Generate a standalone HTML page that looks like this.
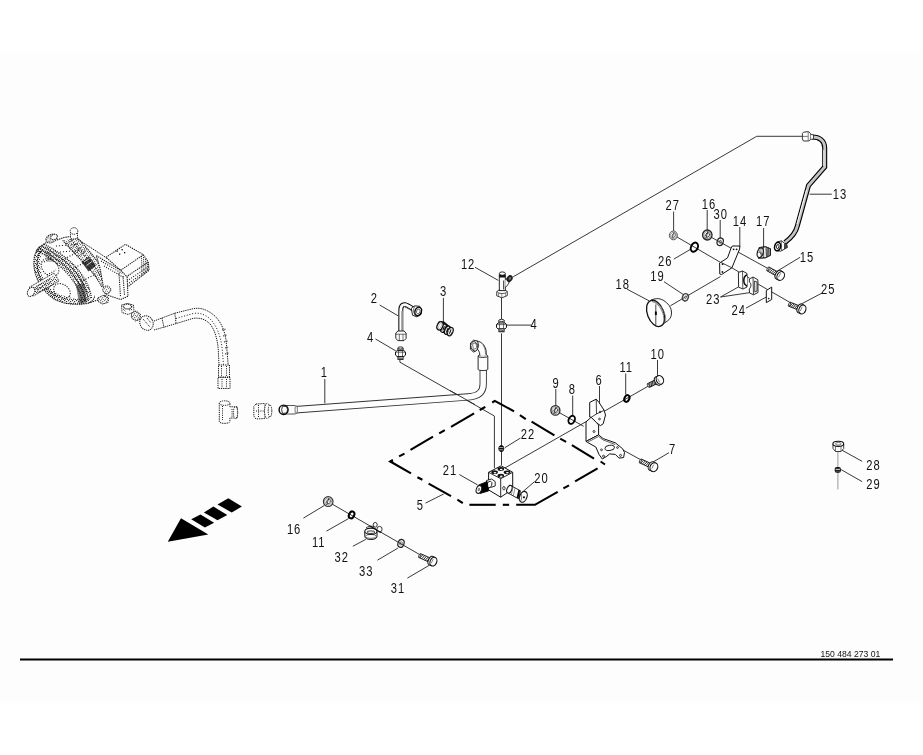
<!DOCTYPE html>
<html><head><meta charset="utf-8"><style>
html,body{margin:0;padding:0;background:#fff;width:923px;height:755px;overflow:hidden}
svg{position:absolute;left:0;top:0;display:block;will-change:transform}
svg text{font-family:"Liberation Sans",sans-serif;font-size:14px;fill:#111;letter-spacing:1.2px}
</style></head><body>
<svg width="923" height="755" viewBox="0 0 923 755">
<rect x="0" y="51" width="922" height="652" fill="#fdfdfd"/>
<g fill="none" stroke="#222" stroke-width="0.9">
<line x1="809.6" y1="194.2" x2="831.8" y2="194.2"/>
<line x1="763.6" y1="228" x2="763.6" y2="248"/>
<line x1="673.6" y1="211.5" x2="673.6" y2="231"/>
<line x1="707.2" y1="210" x2="707.2" y2="230"/>
<line x1="720.2" y1="220" x2="720.2" y2="238.5"/>
<line x1="739.8" y1="227" x2="739.8" y2="247"/>
<line x1="673.8" y1="259.1" x2="691" y2="249"/>
<line x1="664" y1="281.7" x2="683.5" y2="294.7"/>
<line x1="626.9" y1="289.1" x2="649" y2="300.8"/>
<line x1="720.5" y1="297" x2="738.2" y2="287.1"/>
<line x1="720.5" y1="297" x2="749.4" y2="292.7"/>
<line x1="777.6" y1="270.9" x2="800.1" y2="257.3"/>
<line x1="800" y1="304.7" x2="822.7" y2="292.7"/>
<line x1="745.9" y1="308.2" x2="766.3" y2="297"/>
<line x1="475" y1="267.3" x2="498.3" y2="280.4"/>
<line x1="507" y1="325.1" x2="531" y2="325.1"/>
<line x1="379.7" y1="305" x2="398.1" y2="315.8"/>
<line x1="443.4" y1="297.9" x2="443.4" y2="324.1"/>
<line x1="375.5" y1="339" x2="395.8" y2="350.9"/>
<line x1="324.8" y1="379" x2="324.8" y2="403.4"/>
<line x1="555.8" y1="389" x2="555.8" y2="405.5"/>
<line x1="572.7" y1="395.5" x2="572.7" y2="415.4"/>
<line x1="599.5" y1="386" x2="599.5" y2="404.5"/>
<line x1="625.7" y1="373.5" x2="625.7" y2="394.5"/>
<line x1="657.5" y1="360" x2="657.5" y2="376.7"/>
<line x1="669" y1="452.7" x2="653.1" y2="462"/>
<line x1="520.4" y1="438.1" x2="504.8" y2="447.7"/>
<line x1="459.3" y1="474.5" x2="477.5" y2="484.9"/>
<line x1="534.7" y1="481.5" x2="521.7" y2="492.7"/>
<line x1="425.5" y1="503.1" x2="443.7" y2="494"/>
<line x1="303.4" y1="518.1" x2="324.2" y2="505.6"/>
<line x1="326.5" y1="531.1" x2="348.5" y2="518.6"/>
<line x1="352.8" y1="546.3" x2="365.8" y2="539.4"/>
<line x1="377.4" y1="560.2" x2="397.9" y2="548.1"/>
<line x1="407.4" y1="578.1" x2="429.1" y2="565.4"/>
<line x1="842" y1="450.2" x2="862.2" y2="461.4"/>
<line x1="841.1" y1="469.6" x2="862.2" y2="481.7"/>
</g>
<g fill="none" stroke="#222" stroke-width="0.9">
<path d="M756.7,136.3 L803,136.3"/>
<path d="M756.7,136.3 L513.2,276.8"/>
<path d="M501.5,297.7 L501.5,319.1"/>
<path d="M501.5,333.4 L501.5,465"/>
<path d="M399.9,359.9 L399.9,362.2 L494.4,416 L494.4,468"/>
<path d="M504,468.5 L649.2,385.6"/>
<path d="M555.4,410.4 L583.6,426.3"/>
<path d="M623.3,450.2 L641.2,460"/>
<path d="M673.6,235 L720.2,262.2"/>
<path d="M707.2,235 L768.5,268.8"/>
<path d="M670.5,305.7 L720.5,276.5"/>
<path d="M757.2,283.6 L790.3,302.6"/>
<path d="M731,267.3 L749.5,278.2"/>
<path d="M328.2,501.8 L419.5,554.5"/>
</g>
<!-- bottom rule -->
<line x1="20" y1="659.5" x2="893" y2="659.5" stroke="#000" stroke-width="2.2"/>
<text transform="translate(820.5,657)" style="font-size:8.6px;letter-spacing:0">150 484 273 01</text>
<!-- arrow -->
<g fill="#000">
<polygon points="167.8,541.7 181,518.3 208.3,534.4"/>
<polygon points="191.2,519.3 200.5,514.4 214.1,522.7 204.9,527.5"/>
<polygon points="203.9,512.4 213.4,506.6 227.3,514.9 217.5,520.2"/>
<polygon points="217.5,504.6 228.3,498.3 241.9,506.6 231.7,512.4"/>
</g>
<!-- dashed frame 5 -->
<g fill="none" stroke="#000" stroke-width="2.1" stroke-linejoin="miter">
<polyline points="390.3,461.5 392.9,460.3"/>
<polyline points="399.1,456.4 404.5,453.6"/>
<polyline points="410.5,449.9 433,436.7"/>
<polyline points="439.2,433.4 444.8,430.1"/>
<polyline points="451,426.8 474.1,413.4"/>
<polyline points="479.7,410 485.3,406.8"/>
<polyline points="492.2,402.5 494.8,400.9 514.1,411.3"/>
<polyline points="519.9,415.2 525.8,419.1"/>
<polyline points="531.6,421.7 554.4,435.3"/>
<polyline points="560.2,438.6 566.1,441.8"/>
<polyline points="571.9,445.1 594,458.7"/>
<polyline points="600.6,461.5 605,464.5"/>
<polyline points="597.6,468.4 575.1,481.4"/>
<polyline points="569,485.3 563.4,488.4"/>
<polyline points="557.7,491.8 534.9,504.8 516.2,504.8"/>
<polyline points="509.1,504.8 502.8,504.8"/>
<polyline points="495.7,504.8 469.4,504.8"/>
<polyline points="462.8,503.2 457.4,499.7"/>
<polyline points="451,496.1 428.6,483.7"/>
<polyline points="422.4,479.7 417.4,477.2"/>
<polyline points="411,473.3 390.3,461.5 392.9,460.3"/>
</g>
<!-- pipe 1 -->
<path d="M292,410 L468,396.9 C479,396.2 483.2,392 483.2,384 L483.2,368" fill="none" stroke="#333" stroke-width="7.3"/>
<path d="M292,410 L468,396.9 C479,396.2 483.2,392 483.2,384 L483.2,368" fill="none" stroke="#fdfdfd" stroke-width="5.5"/>
<path d="M284,405.6 L296.5,405.6 L296.5,413.9 L284,413.9 Z" fill="#fdfdfd" stroke="none"/>
<path d="M284,405.5 L295.5,405.5 M284,414 L295.5,414" stroke="#444" stroke-width="0.9"/>
<ellipse cx="296.2" cy="409.8" rx="1.2" ry="4.2" fill="none" stroke="#555" stroke-width="0.8"/>
<ellipse cx="283.6" cy="409.8" rx="4.5" ry="4.7" fill="#fdfdfd" stroke="#000" stroke-width="1.4"/>
<path d="M282.5,406.2 L286.6,406.6 L287.6,409.8 L286.6,413 L282.5,413.4 L281.6,409.8 Z" fill="none" stroke="#222" stroke-width="0.9"/>
<!-- pipe 1 sleeve & elbow -->
<path d="M478.1,356 L478.1,369.3 C478.1,371 487.8,371 487.8,369.3 L487.8,356 Z" fill="#fdfdfd" stroke="#111" stroke-width="0.9"/>
<ellipse cx="482.95" cy="356" rx="4.85" ry="1.4" fill="#fdfdfd" stroke="#111" stroke-width="0.9"/>
<path d="M479.8,355.6 C480,351 477,348 474,347.5 L476.5,341 C483,341.5 487,348 486.2,355" fill="#fdfdfd" stroke="#111" stroke-width="0.9"/>
<path d="M483,345 C485,348 485.5,351 485.5,354" fill="none" stroke="#555" stroke-width="0.7"/>
<path d="M470.5,343 L473.5,340.2 L477.5,341 L478.6,345.5 L477,350 L473.5,352.2 L470.4,349 Z" fill="#fdfdfd" stroke="#111" stroke-width="0.9"/>
<ellipse cx="474.3" cy="346.3" rx="3.4" ry="4.8" transform="rotate(-15 474.3 346.3)" fill="#fdfdfd" stroke="#222" stroke-width="0.9"/>
<path d="M472.5,343.5 L476,343 L476.8,348 L473.4,349.5 Z" fill="none" stroke="#444" stroke-width="0.7"/>
<!-- ============ PUMP (dotted drawing) ============ -->
<g fill="none" stroke="#111" stroke-width="1.05" stroke-dasharray="1.4 0.8">
  <!-- front flange outer outline -->
  <path d="M39.5,247 C34,252 32.5,262 35,272 C38,285 47,295 56,300 C65,304.5 80,305.5 88.5,303 C92.5,301.5 94.6,298.5 94.6,295.5"/>
  <path d="M41,251 C37,256 36,264 38.5,273 C41.5,284 49,292.5 57,297"/>
  <!-- inner hub -->
  <ellipse cx="50" cy="267.5" rx="10" ry="7.5" transform="rotate(45 50 267.5)" stroke-dasharray="1.2 1.3"/>
  <ellipse cx="62" cy="291" rx="9" ry="6.5" transform="rotate(35 62 291)" stroke-dasharray="1.2 1.3"/>
  <path d="M44,262 L52,258 M47,275 L56,270" stroke-dasharray="1 1.5"/>
  <!-- body top edge & bumps line -->
  <path d="M39.5,247 L47,242 M57,240 L64,237.5 L71,236.5"/>
  <path d="M56,246 L80,244 M60,252 L85,250" stroke-dasharray="1 2"/>
  <path d="M62,260 L78,252 M70,270 L86,262 M78,283 L96,274" stroke-dasharray="1 1.8"/>
  <!-- bottom edge -->
  <path d="M88.5,303 L98,300 L106,294.6"/>
</g>
<defs>
<pattern id="stip" width="4" height="4" patternUnits="userSpaceOnUse">
<rect x="0" y="0" width="1.2" height="1.2" fill="#111"/><rect x="2" y="1" width="1.2" height="1.2" fill="#111"/><rect x="1" y="2.6" width="1.2" height="1.2" fill="#111"/><rect x="3" y="3" width="1" height="1" fill="#111"/>
</pattern>
<pattern id="stip2" width="5" height="5" patternUnits="userSpaceOnUse">
<rect x="0" y="0" width="1.1" height="1.1" fill="#222"/><rect x="2.5" y="2.5" width="1.1" height="1.1" fill="#222"/><rect x="4" y="1" width="1" height="1" fill="#444"/>
</pattern>
</defs>
<!-- stippled band areas -->
<path d="M36,250 C51,258 67,270 75,284 C80,292 82,298 81.5,303 L91.5,299 C91,293 89,286 84,278 C76,264 60,252 44,244 Z" fill="url(#stip)" opacity="0.7"/>

<path d="M39.5,247 C34,252 32.5,262 35,272 C38,285 47,295 56,300 C65,304.5 80,305.5 88.5,303 L86,298.5 C72,299.5 60,296 52,290 C44,283 39.5,272 40,262 C40.5,256 42,252 44,249.5 Z" fill="url(#stip)" opacity="0.85"/>
<path d="M126,277 L148.3,262.1 L149.1,270.3 L127.1,287.3 Z" fill="url(#stip2)" opacity="0.6"/>
<path d="M100,268 L120.6,270.3 L127.1,276.8 L128,296.3 L120.6,299.5 L106,294.6 Z" fill="url(#stip2)" opacity="0.6"/>
<!-- dense band 1 -->
<g fill="none" stroke="#111" stroke-width="1.2" stroke-dasharray="1.2 0.7">
  <path d="M38.5,248 C54,256 70,268 78,282 C83,290 85,296 85,302"/>
  <path d="M41.5,246 C57,254 73,266 81,280 C86,288 88,295 88.3,301"/>
  <path d="M44,244 C60,252 76,264 84,278 C89,286 91,293 91.5,299" stroke-dasharray="1 1.1"/>
  <path d="M36,250 C51,258 67,270 75,284 C80,292 82,298 81.5,303" stroke-dasharray="1 1.3"/>
</g>
<g fill="#1a1a1a" stroke="none" opacity="0.55">
  <path d="M76,285 L84,283 L87,302 L79,304 Z"/>
  <path d="M44,252 L50,252 L54,262 L47,262 Z" opacity="0.5"/>
</g>
<!-- dense band 2 -->
<path d="M62.7,240.4 C70,249 80,259 87,266 C94,274 99,281 102.3,287.7 L109.1,281.9 C106,276 103,269 98,262 C92,254 84,245 77.2,237.5 Z" fill="url(#stip)" opacity="0.55"/>
<g fill="none" stroke="#111" stroke-width="1.1" stroke-dasharray="1.2 0.8">
  <path d="M62.7,240.4 C70,249 80,259 87,266 C94,274 99,281 102.3,287.7"/>
  <path d="M77.2,237.5 C84,245 92,254 98,262 C103,269 106,276 109.1,281.9"/>
  <path d="M70,239 C77,247 86,256.5 92.5,264 C98.5,271.5 102.5,278.5 105.7,284.8" stroke-dasharray="1 1.4"/>
</g>
<g fill="none" stroke="#111" stroke-width="0.9">
  <path d="M66,244 L74,238.5 M70,248.5 L78,242.5 M74,252.5 L82,246.5 M78,256.5 L86,250.5 M99,275.5 L105.5,270.5 M101,280 L107.5,275.5 M103,284.5 L109,279.5" stroke-dasharray="1.1 0.9"/>
</g>
<path d="M81.5,262 L89,256.5 L96,265.5 L88.5,271.5 Z" fill="#111" opacity="0.8"/>
<path d="M84,262 L89.5,258.5 M86.5,265.5 L92,261.5" stroke="#fdfdfd" stroke-width="0.8" fill="none"/>
<path d="M76.3,238.4 L96,251 L115,263.5" fill="none" stroke="#111" stroke-width="1" stroke-dasharray="1.3 0.9"/>
<!-- top bumps -->
<g fill="#fdfdfd" stroke="#222" stroke-width="1" stroke-dasharray="1.3 0.8">
  <ellipse cx="51.5" cy="238.5" rx="6" ry="4" transform="rotate(-25 51.5 238.5)"/>
  <ellipse cx="51.5" cy="238.5" rx="6" ry="4" transform="rotate(-25 51.5 238.5)" fill="url(#stip)" stroke="none" opacity="0.6"/>
  <ellipse cx="54" cy="237" rx="3.5" ry="2.5" transform="rotate(-25 54 237)"/>
  <path d="M70.5,232 L70.5,237.5 C70.5,239.5 77.5,239.5 77.5,237.5 L77.5,232"/>
  <ellipse cx="74" cy="231" rx="3.8" ry="3.3"/>
</g>
<!-- shaft -->
<g fill="#fdfdfd" stroke="#1a1a1a" stroke-width="1" stroke-dasharray="1.3 0.8">
  <path d="M29,287.5 L54,273 L59,281 L33.5,296 Z"/>
  <ellipse cx="31.2" cy="291.8" rx="3.4" ry="5" transform="rotate(30 31.2 291.8)"/>
  <path d="M36,286.5 L50,278.5 M37,289.5 L52,281 M38.5,292.5 L54,284" stroke-dasharray="1 0.9"/>
  <path d="M33,288 L54,275.5 L58,281 L36,294 Z" fill="url(#stip)" stroke="none" opacity="0.75"/>
</g>
<!-- hydraulic pump box -->
<g fill="#fdfdfd" stroke="#111" stroke-width="1.05" stroke-dasharray="1.3 0.9">
  <path d="M106,257.3 L125.5,244.3 L143.4,254.8 L148.3,262.1 L149.1,270.3 L127.1,287.3 L126,277 L120.6,270.3 Z"/>
  <path d="M120.6,270.3 L143.4,254.8 M126,277 L148.3,262.1"/>
  <path d="M127,281 L148.5,266.5 M127,284.5 L149,269" stroke-dasharray="1 1.5"/>
  
</g>
<g fill="none" stroke="#111" stroke-width="0.9" stroke-dasharray="1 0.9">
  <path d="M141.5,256 L142,276 M143.5,257 L144,274.5 M145.5,259 L146,273 M147.3,262 L147.6,271"/>
</g>
<g fill="#111">
  <rect x="116.5" y="250.5" width="1.3" height="1.3"/><rect x="121.5" y="249" width="1.3" height="1.3"/><rect x="119" y="253.5" width="1.3" height="1.3"/><rect x="124" y="252" width="1.3" height="1.3"/>
</g>
<!-- flange plate -->
<g fill="#fdfdfd" stroke="#111" stroke-width="1.05" stroke-dasharray="1.3 0.9">
  <path d="M96.3,255.6 L120.6,270.3 L127.1,276.8 L128,296.3 L120.6,299.5 L106,294.6 L104,290 L100,268 Z"/>
  <path d="M101,261 L122,273.5 M104,266 L124.5,278" stroke-dasharray="1 1.4"/>
  <path d="M119,273 L120.5,297 M123,276 L124.5,295" stroke-dasharray="1.2 1"/>
</g>
<!-- bottom small parts -->
<g fill="#fdfdfd" stroke="#111" stroke-width="1" stroke-dasharray="1.2 0.8">
  <ellipse cx="106.8" cy="289.8" rx="4" ry="3.8"/>
  <ellipse cx="106.8" cy="289.8" rx="4" ry="3.8" fill="url(#stip)" stroke="none" opacity="0.5"/>
  <path d="M97.9,298 L103,295.4 L108.5,297.5 L108,302.5 L102.5,304 L98,301.5 Z"/>
  <path d="M97.9,298 L103,295.4 L108.5,297.5 L108,302.5 L102.5,304 L98,301.5 Z" fill="url(#stip)" stroke="none" opacity="0.55"/>
</g>
<!-- adapter below pump -->
<g fill="#fdfdfd" stroke="#1a1a1a" stroke-width="1" stroke-dasharray="1.2 0.8">
  <path d="M121.5,305 L127,303.5 L133.5,305 L134,312 L128,314.5 L122,312.5 Z"/>
  <ellipse cx="127.5" cy="306.5" rx="4.2" ry="2.4" stroke-width="1.2"/>
  <path d="M131.5,313 L136,311 L140.4,314 L140,319.5 L135.5,321 L131.5,318 Z"/>
  <path d="M131.5,313 L136,311 L140.4,314 L140,319.5 L135.5,321 L131.5,318 Z" fill="url(#stip)" stroke="none" opacity="0.6"/>
  <path d="M123,309 L126,312 M129,310 L132,309.5" stroke-dasharray="1 1"/>
</g>
<!-- elbow -->
<g fill="#fdfdfd" stroke="#1a1a1a" stroke-width="1" stroke-dasharray="1.2 0.8">
  <ellipse cx="146.5" cy="323" rx="6.5" ry="7.5" transform="rotate(-30 146.5 323)"/>
  <path d="M143,319 L150,327 M147,318 L151,323" stroke-dasharray="1 1"/>
</g>
<!-- hose -->
<g fill="none" stroke="#1a1a1a" stroke-width="1" stroke-dasharray="1.3 0.9">
  <path d="M154,321 L174.8,313.2 L193,308.7 C200,307.5 205,309 211,313 C220,319 225.5,330 226.5,345 L228.2,365"/>
  <path d="M154,330 L176.1,323.6 L193,318.4 C200,317.5 205,319 210,324 C215,330 217.5,340 218.3,350 L219,365"/>
  <path d="M176,318.5 L193,313.5 C199,312.5 204,314 209,318 C217,325 221,337 222.3,350 L223.5,365" stroke-dasharray="1 1.8"/>
  <path d="M162,318 L164,327.5 M174.8,313.2 L176.1,323.6" />
  <path d="M222,330 L226,329 M223,336 L227,335 M224,342 L228,341 M225,348 L228.5,347 M225,354 L229,353" stroke-dasharray="1 0.8"/>
</g>
<!-- hose end fitting -->
<g fill="#fdfdfd" stroke="#1a1a1a" stroke-width="1" stroke-dasharray="1.3 0.9">
  <path d="M218.5,365 L229.5,365 L229.5,377 L218.5,377 Z"/>
  <path d="M218,377.5 L230,377.5 L230,388.5 L218,388.5 Z"/>
  <path d="M221.5,366 L221.5,376 M226.5,366 L226.5,376 M222,379 L222,388 M226.5,379 L226.5,388" stroke-dasharray="1 1.2"/>
</g>
<!-- tee -->
<g fill="#fdfdfd" stroke="#1a1a1a" stroke-width="1" stroke-dasharray="1.3 0.9">
  <path d="M219.3,403 L219.3,421.5 C219.3,424 229.9,424 229.9,421.5 L229.9,418 L237.4,418 L237.4,406.8 L229.9,406.8 L229.9,403"/>
  <ellipse cx="224.6" cy="403.1" rx="5.3" ry="2.3"/>
  <ellipse cx="235.5" cy="412.6" rx="2.2" ry="5.8"/>
  <path d="M222.5,406 L222.5,420 M232,409 L232,417" stroke-dasharray="1 1.2"/>
</g>
<!-- middle fitting -->
<g fill="#fdfdfd" stroke="#1a1a1a" stroke-width="1" stroke-dasharray="1.3 0.9">
  <path d="M256,404 L265,403.5 L265,418.5 L256,419 L253.8,416 L253.8,406.5 Z"/>
  <ellipse cx="267.3" cy="411" rx="2.8" ry="7.6"/>
  <ellipse cx="270" cy="411" rx="1.8" ry="6" />
  <path d="M256,411 L264,411 M258.5,405 L258.5,418" stroke-dasharray="1 1.2"/>
</g>
<path d="M812,137 C820,137 824.7,141 824.7,148 L824.7,167 L808.5,185.5 L797.3,226 C796,232 791,238 785,242.5" fill="none" stroke="#000" stroke-width="5.0" />
<path d="M812,137 C820,137 824.7,141 824.7,148 L824.7,167 L808.5,185.5 L797.3,226 C796,232 791,238 785,242.5" fill="none" stroke="#c4c4c4" stroke-width="2.8" />
<path d="M823.8,150 L823.8,166 M806.5,190 L797,224" fill="none" stroke="#fdfdfd" stroke-width="0.9" />
<path d="M803.5,132.2 L808.5,131.6 L810.8,133.8 L810.8,139.5 L808.5,141 L803.5,141 L802.4,139 L802.4,133.5 Z" fill="#fdfdfd" stroke="#222" stroke-width="0.9" />
<path d="M802.6,136.4 L807.8,136.4 M808.2,132 L808.2,140.8" fill="none" stroke="#444" stroke-width="0.7" />
<path d="M810.8,134.5 L813.5,134.8 L813.5,139 L810.8,139.3" fill="#fdfdfd" stroke="#222" stroke-width="0.8" />
<path d="M776.5,242.2 L781.5,240.8 L784.8,243.5 L784.5,249.2 L780.5,251.2 L776.5,250.5 Z" fill="#fdfdfd" stroke="#111" stroke-width="0.9" />
<path d="M781.3,241 L781.6,250.8" fill="none" stroke="#333" stroke-width="0.7" />
<ellipse cx="777.6" cy="246.6" rx="3.0" ry="4.3" transform="rotate(15 777.6 246.6)" fill="#fdfdfd" stroke="#000" stroke-width="1.5" />
<ellipse cx="777.7" cy="246.6" rx="1.3" ry="2.1" transform="rotate(15 777.7 246.6)" fill="none" stroke="#111" stroke-width="0.9" />
<path d="M784.7,244 L786.5,243 L787.5,247.5 L784.5,249" fill="#444" stroke="#111" stroke-width="0.7" />
<path d="M759,247.6 L765.5,246.6 L770.5,248.8 L770.5,255.2 L765.5,257.8 L758.5,258.4 Z" fill="#fdfdfd" stroke="#111" stroke-width="0.9" />
<path d="M766,247 L770.5,248.8 L770.5,255.2 L766.4,257.4 Z" fill="#fdfdfd" stroke="#111" stroke-width="0.8" />
<path d="M767.2,247.6 L767.4,257 M768.6,248 L768.8,256.4 M770,248.5 L770,255.6" fill="none" stroke="#111" stroke-width="0.8" />
<ellipse cx="760.2" cy="252.8" rx="2.9" ry="5.0" transform="rotate(15 760.2 252.8)" fill="#fdfdfd" stroke="#111" stroke-width="1.2" />
<path d="M758.6,249.2 L762,256.3 M760.8,248.3 L761.3,257.2 M758.2,252 L762.6,253.6" fill="none" stroke="#333" stroke-width="0.6" />
<path d="M761,247.4 L765.5,246.8 M761.5,258.1 L765.8,257.6 M763.5,247.1 L763.8,258" fill="none" stroke="#111" stroke-width="0.7" />
<path d="M767.0,270.8 L777.4,276.6 L779.5,272.9 L769.0,267.0Z" fill="#fdfdfd" stroke="#111" stroke-width="0.9" />
<ellipse cx="768" cy="268.9" rx="0.8" ry="2.15" transform="rotate(29.2 768 268.9)" fill="#fdfdfd" stroke="#222" stroke-width="0.8" />
<line x1="767.9" y1="271.3" x2="771.3" y2="268.3" stroke="#111" stroke-width="0.9"/>
<line x1="769.5" y1="272.2" x2="772.9" y2="269.2" stroke="#111" stroke-width="0.9"/>
<line x1="771.2" y1="273.1" x2="774.5" y2="270.1" stroke="#111" stroke-width="0.9"/>
<line x1="772.8" y1="274.0" x2="776.1" y2="271.0" stroke="#111" stroke-width="0.9"/>
<line x1="774.4" y1="274.9" x2="777.7" y2="271.9" stroke="#111" stroke-width="0.9"/>
<line x1="776.0" y1="275.8" x2="779.3" y2="272.7" stroke="#111" stroke-width="0.9"/>
<ellipse cx="778.4" cy="274.7" rx="2.8000000000000003" ry="4.7" transform="rotate(29.2 778.4 274.7)" fill="#fdfdfd" stroke="#111" stroke-width="1.0" />
<path d="M776.1,278.8 L778.4,280.1 L783.0,271.9 L780.7,270.6Z" fill="#fdfdfd" stroke="none" stroke-width="0.9" />
<line x1="776.1" y1="278.8" x2="778.4" y2="280.1" stroke="#111" stroke-width="1"/>
<line x1="780.7" y1="270.6" x2="783.0" y2="271.9" stroke="#111" stroke-width="1"/>
<ellipse cx="780.7" cy="276" rx="3.5" ry="4.7" transform="rotate(29.2 780.7 276)" fill="#fdfdfd" stroke="#111" stroke-width="1.1" />
<line x1="778.4" y1="277.4" x2="780.7" y2="273.3" stroke="#333" stroke-width="0.6"/>
<path d="M788.7,306.2 L799.2,310.4 L800.8,306.4 L790.3,302.2Z" fill="#fdfdfd" stroke="#111" stroke-width="0.9" />
<ellipse cx="789.5" cy="304.2" rx="0.8" ry="2.15" transform="rotate(22.0 789.5 304.2)" fill="#fdfdfd" stroke="#222" stroke-width="0.8" />
<line x1="789.7" y1="306.6" x2="792.6" y2="303.1" stroke="#111" stroke-width="0.9"/>
<line x1="791.3" y1="307.2" x2="794.2" y2="303.8" stroke="#111" stroke-width="0.9"/>
<line x1="792.9" y1="307.9" x2="795.8" y2="304.4" stroke="#111" stroke-width="0.9"/>
<line x1="794.5" y1="308.5" x2="797.4" y2="305.1" stroke="#111" stroke-width="0.9"/>
<line x1="796.1" y1="309.2" x2="799.0" y2="305.7" stroke="#111" stroke-width="0.9"/>
<line x1="797.7" y1="309.8" x2="800.6" y2="306.4" stroke="#111" stroke-width="0.9"/>
<ellipse cx="800.0" cy="308.4" rx="2.72" ry="4.6" transform="rotate(22.0 800.0 308.4)" fill="#fdfdfd" stroke="#111" stroke-width="1.0" />
<path d="M798.3,312.7 L800.7,313.7 L804.1,305.1 L801.7,304.2Z" fill="#fdfdfd" stroke="none" stroke-width="0.9" />
<line x1="798.3" y1="312.7" x2="800.7" y2="313.7" stroke="#111" stroke-width="1"/>
<line x1="801.7" y1="304.2" x2="804.1" y2="305.1" stroke="#111" stroke-width="1"/>
<ellipse cx="802.4" cy="309.4" rx="3.4" ry="4.6" transform="rotate(22.0 802.4 309.4)" fill="#fdfdfd" stroke="#111" stroke-width="1.1" />
<line x1="800.3" y1="311.0" x2="802.1" y2="306.8" stroke="#333" stroke-width="0.6"/>
<path d="M649.4,387.4 L658.5,383.0 L656.6,379.1 L647.6,383.6Z" fill="#fdfdfd" stroke="#111" stroke-width="0.9" />
<ellipse cx="648.5" cy="385.5" rx="0.8" ry="2.15" transform="rotate(-26.2 648.5 385.5)" fill="#fdfdfd" stroke="#222" stroke-width="0.8" />
<line x1="650.2" y1="387.1" x2="649.6" y2="382.6" stroke="#111" stroke-width="0.9"/>
<line x1="651.6" y1="386.4" x2="651.0" y2="381.9" stroke="#111" stroke-width="0.9"/>
<line x1="653.0" y1="385.7" x2="652.4" y2="381.2" stroke="#111" stroke-width="0.9"/>
<line x1="654.4" y1="385.0" x2="653.8" y2="380.5" stroke="#111" stroke-width="0.9"/>
<line x1="655.8" y1="384.3" x2="655.2" y2="379.8" stroke="#111" stroke-width="0.9"/>
<line x1="657.2" y1="383.6" x2="656.5" y2="379.2" stroke="#111" stroke-width="0.9"/>
<ellipse cx="657.6" cy="381.0" rx="2.8000000000000003" ry="4.5" transform="rotate(-26.2 657.6 381.0)" fill="#fdfdfd" stroke="#111" stroke-width="1.0" />
<path d="M659.6,385.1 L661.9,383.9 L657.9,375.9 L655.6,377.0Z" fill="#fdfdfd" stroke="none" stroke-width="0.9" />
<line x1="659.6" y1="385.1" x2="661.9" y2="383.9" stroke="#111" stroke-width="1"/>
<line x1="655.6" y1="377.0" x2="657.9" y2="375.9" stroke="#111" stroke-width="1"/>
<ellipse cx="659.9" cy="379.9" rx="3.5" ry="4.5" transform="rotate(-26.2 659.9 379.9)" fill="#fdfdfd" stroke="#111" stroke-width="1.1" />
<line x1="659.7" y1="382.5" x2="657.7" y2="378.5" stroke="#333" stroke-width="0.6"/>
<path d="M639.5,462.8 L650.7,468.0 L652.4,464.2 L641.3,459.0Z" fill="#fdfdfd" stroke="#111" stroke-width="0.9" />
<ellipse cx="640.4" cy="460.9" rx="0.8" ry="2.1" transform="rotate(25.0 640.4 460.9)" fill="#fdfdfd" stroke="#222" stroke-width="0.8" />
<line x1="640.6" y1="463.3" x2="643.6" y2="460.1" stroke="#111" stroke-width="0.9"/>
<line x1="642.3" y1="464.1" x2="645.4" y2="460.9" stroke="#111" stroke-width="0.9"/>
<line x1="644.0" y1="464.9" x2="647.1" y2="461.7" stroke="#111" stroke-width="0.9"/>
<line x1="645.7" y1="465.7" x2="648.8" y2="462.5" stroke="#111" stroke-width="0.9"/>
<line x1="647.4" y1="466.5" x2="650.5" y2="463.3" stroke="#111" stroke-width="0.9"/>
<line x1="649.2" y1="467.3" x2="652.2" y2="464.1" stroke="#111" stroke-width="0.9"/>
<ellipse cx="651.5" cy="466.1" rx="3.04" ry="4.5" transform="rotate(25.0 651.5 466.1)" fill="#fdfdfd" stroke="#111" stroke-width="1.0" />
<path d="M649.6,470.2 L652.0,471.3 L655.8,463.1 L653.4,462.0Z" fill="#fdfdfd" stroke="none" stroke-width="0.9" />
<line x1="649.6" y1="470.2" x2="652.0" y2="471.3" stroke="#111" stroke-width="1"/>
<line x1="653.4" y1="462.0" x2="655.8" y2="463.1" stroke="#111" stroke-width="1"/>
<ellipse cx="653.9" cy="467.2" rx="3.8" ry="4.5" transform="rotate(25.0 653.9 467.2)" fill="#fdfdfd" stroke="#111" stroke-width="1.1" />
<line x1="651.8" y1="468.7" x2="653.7" y2="464.6" stroke="#333" stroke-width="0.6"/>
<path d="M418.8,557.5 L430.2,562.6 L431.9,558.7 L420.6,553.7Z" fill="#fdfdfd" stroke="#111" stroke-width="0.9" />
<ellipse cx="419.7" cy="555.6" rx="0.8" ry="2.1" transform="rotate(24.0 419.7 555.6)" fill="#fdfdfd" stroke="#222" stroke-width="0.8" />
<line x1="419.9" y1="558.0" x2="422.9" y2="554.7" stroke="#111" stroke-width="0.9"/>
<line x1="421.7" y1="558.8" x2="424.7" y2="555.5" stroke="#111" stroke-width="0.9"/>
<line x1="423.4" y1="559.6" x2="426.4" y2="556.3" stroke="#111" stroke-width="0.9"/>
<line x1="425.2" y1="560.3" x2="428.2" y2="557.1" stroke="#111" stroke-width="0.9"/>
<line x1="426.9" y1="561.1" x2="429.9" y2="557.8" stroke="#111" stroke-width="0.9"/>
<line x1="428.7" y1="561.9" x2="431.6" y2="558.6" stroke="#111" stroke-width="0.9"/>
<ellipse cx="431.0" cy="560.6" rx="2.64" ry="4.5" transform="rotate(24.0 431.0 560.6)" fill="#fdfdfd" stroke="#111" stroke-width="1.0" />
<path d="M429.2,564.8 L431.6,565.8 L435.2,557.6 L432.9,556.5Z" fill="#fdfdfd" stroke="none" stroke-width="0.9" />
<line x1="429.2" y1="564.8" x2="431.6" y2="565.8" stroke="#111" stroke-width="1"/>
<line x1="432.9" y1="556.5" x2="435.2" y2="557.6" stroke="#111" stroke-width="1"/>
<ellipse cx="433.4" cy="561.7" rx="3.3" ry="4.5" transform="rotate(24.0 433.4 561.7)" fill="#fdfdfd" stroke="#111" stroke-width="1.1" />
<line x1="431.3" y1="563.2" x2="433.1" y2="559.1" stroke="#333" stroke-width="0.6"/>
<ellipse cx="673.4" cy="235.4" rx="4.0" ry="4.4" transform="rotate(0 673.4 235.4)" fill="#fdfdfd" stroke="#555" stroke-width="1.0" />
<path d="M676.4,236.3 L674.2,238.7 L671.2,237.8 L670.4,234.5 L672.6,232.1 L675.6,233.0Z" fill="none" stroke="#555" stroke-width="0.6" />
<ellipse cx="673.6999999999999" cy="235.4" rx="1.52" ry="1.9800000000000002" transform="rotate(20 673.6999999999999 235.4)" fill="none" stroke="#555" stroke-width="0.8" />
<line x1="672.0" y1="238.7" x2="674.0" y2="232.1" stroke="#555" stroke-width="0.8"/>
<ellipse cx="707.3" cy="235.0" rx="4.7" ry="5.0" transform="rotate(0 707.3 235.0)" fill="#fdfdfd" stroke="#222" stroke-width="1.3" />
<path d="M710.8,236.0 L708.2,238.8 L704.7,237.8 L703.8,234.0 L706.4,231.2 L709.9,232.2Z" fill="none" stroke="#555" stroke-width="0.6" />
<ellipse cx="707.5999999999999" cy="235.0" rx="1.786" ry="2.25" transform="rotate(20 707.5999999999999 235.0)" fill="none" stroke="#222" stroke-width="0.8" />
<line x1="705.7" y1="238.8" x2="708.0" y2="231.2" stroke="#222" stroke-width="0.8"/>
<ellipse cx="555.4" cy="410.4" rx="4.5" ry="4.8" transform="rotate(0 555.4 410.4)" fill="#fdfdfd" stroke="#222" stroke-width="1.3" />
<path d="M558.8,411.4 L556.3,414.0 L552.9,413.0 L552.0,409.4 L554.5,406.8 L557.9,407.8Z" fill="none" stroke="#555" stroke-width="0.6" />
<ellipse cx="555.6999999999999" cy="410.4" rx="1.71" ry="2.16" transform="rotate(20 555.6999999999999 410.4)" fill="none" stroke="#222" stroke-width="0.8" />
<line x1="553.8" y1="414.0" x2="556.1" y2="406.8" stroke="#222" stroke-width="0.8"/>
<ellipse cx="328.2" cy="501.6" rx="4.8" ry="4.9" transform="rotate(0 328.2 501.6)" fill="#fdfdfd" stroke="#333" stroke-width="1.2" />
<path d="M331.8,502.6 L329.2,505.3 L325.6,504.3 L324.6,500.6 L327.2,497.9 L330.8,498.9Z" fill="none" stroke="#555" stroke-width="0.6" />
<ellipse cx="328.5" cy="501.6" rx="1.8239999999999998" ry="2.205" transform="rotate(20 328.5 501.6)" fill="none" stroke="#333" stroke-width="0.8" />
<line x1="326.5" y1="505.3" x2="328.9" y2="497.9" stroke="#333" stroke-width="0.8"/>
<ellipse cx="720.2" cy="241.8" rx="3.0" ry="3.9" transform="rotate(20 720.2 241.8)" fill="none" stroke="#222" stroke-width="1.2" />
<ellipse cx="720.2" cy="241.8" rx="1.0" ry="1.6" transform="rotate(20 720.2 241.8)" fill="none" stroke="#333" stroke-width="0.7" />
<ellipse cx="694.4" cy="247.2" rx="3.3" ry="4.8" transform="rotate(25 694.4 247.2)" fill="none" stroke="#000" stroke-width="2.0" />
<ellipse cx="685.4" cy="297.3" rx="2.9" ry="3.7" transform="rotate(20 685.4 297.3)" fill="none" stroke="#444" stroke-width="1.4" />
<ellipse cx="685.5" cy="297.3" rx="1.0" ry="1.5" transform="rotate(20 685.5 297.3)" fill="none" stroke="#666" stroke-width="0.7" />
<ellipse cx="571.7" cy="419.8" rx="3.0" ry="4.2" transform="rotate(25 571.7 419.8)" fill="none" stroke="#000" stroke-width="1.9" />
<ellipse cx="626.9" cy="398.5" rx="2.4" ry="3.5" transform="rotate(25 626.9 398.5)" fill="none" stroke="#000" stroke-width="2.0" />
<ellipse cx="351.6" cy="514.9" rx="2.6" ry="3.6" transform="rotate(25 351.6 514.9)" fill="none" stroke="#000" stroke-width="2.0" />
<ellipse cx="401" cy="543.4" rx="3.0" ry="4.0" transform="rotate(20 401 543.4)" fill="none" stroke="#222" stroke-width="1.2" />
<ellipse cx="401" cy="543.4" rx="1.2" ry="1.7" transform="rotate(20 401 543.4)" fill="none" stroke="#333" stroke-width="0.7" />
<path d="M732.3,246 L739.8,246 L739.6,249 L731.9,267.8 L721.5,274.6 L719.8,274 L719.6,263 L720.7,262.3 L727.5,257.9 L731.1,248 Z" fill="#fdfdfd" stroke="#111" stroke-width="1.0" />
<path d="M720.7,262.3 L731.9,267.8" fill="none" stroke="#111" stroke-width="0.8" />
<circle cx="733.6" cy="249.3" r="0.9" fill="#111"/>
<circle cx="736.6" cy="249.3" r="0.9" fill="#111"/>
<circle cx="722.6" cy="264.2" r="0.9" fill="#111"/>
<circle cx="722.4" cy="272" r="0.9" fill="#111"/>
<path d="M738.4,272.5 L742.5,271 L747,273.5 L747,287 L743,289 L738.6,287.2 Z" fill="#fdfdfd" stroke="#111" stroke-width="0.9" />
<path d="M742.5,271 L742.8,288.5" fill="none" stroke="#111" stroke-width="0.7" />
<path d="M747,275 C743,276 742.5,284 747,286" fill="#fdfdfd" stroke="#111" stroke-width="1.6" />
<path d="M749.4,279 L753,277 L757.9,279.8 L758,292.5 L753.5,294.8 L749.6,293 L749.2,289 C751.5,287 751.5,283 749.3,282 Z" fill="#fdfdfd" stroke="#111" stroke-width="0.9" />
<path d="M753,277.2 L753.5,294.5 M754.6,281 L757,282 L757,291 L754.8,292 Z" fill="none" stroke="#111" stroke-width="0.8" />
<path d="M766.3,290.5 L771.7,287.1 L771.7,299.5 L766.3,302.6 Z" fill="#fdfdfd" stroke="#111" stroke-width="1.0" />
<circle cx="768.8" cy="298.6" r="0.8" fill="#111"/>
<path d="M650.1,300.7 C655,298 662,296.5 669.2,305.5 C673,311 672,318 667.4,321 L661,325.5" fill="#fdfdfd" stroke="#111" stroke-width="0.9" />
<ellipse cx="655.6" cy="313.4" rx="8.2" ry="13.7" transform="rotate(-21 655.6 313.4)" fill="#fdfdfd" stroke="#111" stroke-width="1.3" />
<path d="M652,301.5 C659,303 665,313 664,323" fill="none" stroke="#555" stroke-width="0.8" />
<path d="M653.5,301 C661,304 667,314 665.6,322" fill="none" stroke="#777" stroke-width="0.7" />
<path d="M655.8,304.5 L655.8,325" fill="none" stroke="#333" stroke-width="0.9" />
<rect x="654.9" y="311.5" width="1.9" height="3.5" fill="#000"/>
<path d="M589.7,402.4 L596.2,399.2 L599,402.4 L604.1,410.3 L605.5,415 L603.2,423.8 L600.4,425.6 L596.7,422.8 L591.1,417.3 L589.7,417 Z" fill="#fdfdfd" stroke="#111" stroke-width="1.0" />
<path d="M596.2,399.2 L596.5,414 L604.1,410.3 M596.5,414 L591.1,417.3" fill="none" stroke="#111" stroke-width="0.8" />
<path d="M586,421.9 L591.1,417.3 L596.7,422.8 L598.6,425 L598.6,434.9 L586,441.4 Z" fill="#fdfdfd" stroke="#111" stroke-width="1.0" />
<path d="M586,441.4 L587.4,442.3 L595.8,447 L599,454.4 L602.3,459 L606.9,456.2 L609.7,453.9 L615.3,454.4 L619,458.1 L623.6,457.6 L624.5,452.5 L622.7,448.8 L615.3,442.8 L603.2,438.6 L598.6,434.9 Z" fill="#fdfdfd" stroke="#111" stroke-width="1.0" />
<path d="M587.4,442.3 L598.6,436.5 L603.2,440 L615.3,444.5" fill="none" stroke="#222" stroke-width="0.7" />
<ellipse cx="609.7" cy="447.9" rx="4.8" ry="2.6" transform="rotate(-8 609.7 447.9)" fill="#fdfdfd" stroke="#111" stroke-width="0.9" />
<circle cx="601.5" cy="449.8" r="0.9" fill="none" stroke="#111" stroke-width="0.8"/>
<circle cx="617.5" cy="447.5" r="0.9" fill="none" stroke="#111" stroke-width="0.8"/>
<circle cx="603.5" cy="456.2" r="1.0" fill="none" stroke="#111" stroke-width="0.8"/>
<circle cx="620.5" cy="455.4" r="1.0" fill="none" stroke="#111" stroke-width="0.8"/>
<circle cx="600" cy="412" r="0.8" fill="none" stroke="#111" stroke-width="0.8"/>
<circle cx="599.5" cy="419" r="0.9" fill="none" stroke="#111" stroke-width="0.8"/>
<circle cx="594" cy="431.5" r="1.0" fill="none" stroke="#111" stroke-width="0.8"/>
<path d="M488.6,472.3 L501.1,465.8 L512.7,472.3 L512.7,489 L500.7,497.2 L488.6,489.9 Z" fill="#fdfdfd" stroke="#111" stroke-width="1.0" />
<path d="M488.6,472.3 L500.7,478.7 L512.7,472.3 M500.7,478.7 L500.7,497.2" fill="none" stroke="#111" stroke-width="0.9" />
<ellipse cx="494.6" cy="472.2" rx="3.3" ry="1.9" transform="rotate(0 494.6 472.2)" fill="#111" stroke="none" stroke-width="0.9" />
<ellipse cx="495.0" cy="472.7" rx="1.4" ry="0.7" transform="rotate(0 495.0 472.7)" fill="#fdfdfd" stroke="none" stroke-width="0.9" />
<ellipse cx="500.8" cy="469.0" rx="3.3" ry="1.9" transform="rotate(0 500.8 469.0)" fill="#111" stroke="none" stroke-width="0.9" />
<ellipse cx="501.2" cy="469.5" rx="1.4" ry="0.7" transform="rotate(0 501.2 469.5)" fill="#fdfdfd" stroke="none" stroke-width="0.9" />
<ellipse cx="507" cy="472.3" rx="3.3" ry="1.9" transform="rotate(0 507 472.3)" fill="#111" stroke="none" stroke-width="0.9" />
<ellipse cx="507.4" cy="472.8" rx="1.4" ry="0.7" transform="rotate(0 507.4 472.8)" fill="#fdfdfd" stroke="none" stroke-width="0.9" />
<ellipse cx="500.8" cy="475.7" rx="3.3" ry="1.9" transform="rotate(0 500.8 475.7)" fill="#111" stroke="none" stroke-width="0.9" />
<ellipse cx="501.2" cy="476.2" rx="1.4" ry="0.7" transform="rotate(0 501.2 476.2)" fill="#fdfdfd" stroke="none" stroke-width="0.9" />
<ellipse cx="503.9" cy="488.2" rx="1.2" ry="1.7" transform="rotate(0 503.9 488.2)" fill="none" stroke="#111" stroke-width="0.8" />
<path d="M486.5,480.5 L491.5,479 L495.2,481.5 L495.2,486 L490.5,487.5 L486.5,486.5 Z" fill="#fdfdfd" stroke="#111" stroke-width="0.9" />
<ellipse cx="489.5" cy="484.5" rx="2.3" ry="3.4" transform="rotate(20 489.5 484.5)" fill="#fdfdfd" stroke="#222" stroke-width="0.9" />
<path d="M478.6,485 L487.2,481.5 L488.5,491 L480,493.5 Z" fill="#000" stroke="#000" stroke-width="0.8" />
<ellipse cx="478.9" cy="489.5" rx="2.6" ry="4.0" transform="rotate(20 478.9 489.5)" fill="#fdfdfd" stroke="#111" stroke-width="1.0" />
<ellipse cx="478.9" cy="489.5" rx="1.2" ry="1.8" transform="rotate(20 478.9 489.5)" fill="#888" stroke="none" stroke-width="0.9" />
<path d="M510.3,485.3 L520.5,490.8 L518.5,498.8 L508.5,493.3 Z" fill="#fdfdfd" stroke="#111" stroke-width="0.9" />
<ellipse cx="509.4" cy="489.3" rx="2.4" ry="4.1" transform="rotate(22 509.4 489.3)" fill="#fdfdfd" stroke="#111" stroke-width="1.1" />
<path d="M513,487 L511.3,494.8 M515,488 L513.3,496" fill="none" stroke="#555" stroke-width="0.6" />
<path d="M519.3,490 L517.5,498" fill="none" stroke="#000" stroke-width="1.8" />
<ellipse cx="523.3" cy="496.8" rx="3.6" ry="5.6" transform="rotate(22 523.3 496.8)" fill="#fdfdfd" stroke="#111" stroke-width="1.2" />
<circle cx="524" cy="497.3" r="1.1" fill="#111"/>
<path d="M521,492.5 C522,495 522,498.5 520.7,501" fill="none" stroke="#444" stroke-width="0.7" />
<ellipse cx="501.3" cy="448.6" rx="2.5" ry="3.0" transform="rotate(0 501.3 448.6)" fill="#111" stroke="#000" stroke-width="0.9" />
<path d="M499.2,447.5 L503.4,447.5 M499.2,449.8 L503.4,449.8" fill="none" stroke="#fdfdfd" stroke-width="0.6" />
<path d="M496.8,291.5 L501.5,289.2 L507.2,291.2 L507.3,295.6 L502,297.8 L496.7,295.8 Z" fill="#fdfdfd" stroke="#222" stroke-width="0.9" />
<ellipse cx="502" cy="291.6" rx="4.6" ry="2.0" transform="rotate(0 502 291.6)" fill="#fdfdfd" stroke="#333" stroke-width="0.8" />
<path d="M501.8,293.6 L501.8,297.6 M498.5,293 L498.5,296.5 M505.5,293 L505.5,296.5" fill="none" stroke="#555" stroke-width="0.6" />
<rect x="499.3" y="275" width="6" height="15.6" fill="#fdfdfd" stroke="#111" stroke-width="0.9"/>
<path d="M503.6,280.5 L503.6,289.5" fill="none" stroke="#111" stroke-width="0.8" />
<rect x="499.3" y="273.5" width="6" height="4" fill="#111"/>
<ellipse cx="502.3" cy="273.6" rx="3.0" ry="1.7" transform="rotate(0 502.3 273.6)" fill="#fdfdfd" stroke="#111" stroke-width="0.9" />
<path d="M505.3,279.5 L508,278 L509,283 L506.5,286.5 L505.3,287" fill="#fdfdfd" stroke="#111" stroke-width="0.8" />
<ellipse cx="509.6" cy="278.6" rx="2.5" ry="3.4" transform="rotate(30 509.6 278.6)" fill="#222" stroke="#111" stroke-width="0.8" />
<ellipse cx="509.9" cy="278.4" rx="1.0" ry="1.5" transform="rotate(30 509.9 278.4)" fill="#777" stroke="none" stroke-width="0.9" />
<path d="M498.9,320.4 L498.9,323.7 L504.1,323.7 L504.1,320.4" fill="#fdfdfd" stroke="#111" stroke-width="0.9" />
<ellipse cx="501.5" cy="320.4" rx="2.6" ry="1.1" transform="rotate(0 501.5 320.4)" fill="#fdfdfd" stroke="#111" stroke-width="0.9" />
<path d="M498.9,321.8 L504.1,321.8" fill="none" stroke="#555" stroke-width="0.6" />
<path d="M496.5,324.4 L498.1,323.0 L504.9,323.0 L506.5,324.4 L506.5,327.5 L504.9,328.9 L498.1,328.9 L496.5,327.5 Z" fill="#fdfdfd" stroke="#111" stroke-width="1.0" />
<path d="M499.5,323.5 L499.5,328.7 M503.5,323.5 L503.5,328.7 M496.5,324.59999999999997 L506.5,324.59999999999997" fill="none" stroke="#333" stroke-width="0.7" />
<rect x="498.9" y="328.9" width="5.2" height="2.9" fill="#fdfdfd" stroke="#111" stroke-width="0.9"/>
<path d="M499.3,330.0 L503.7,330.59999999999997 M499.3,331.09999999999997 L503.7,331.59999999999997" fill="none" stroke="#222" stroke-width="0.7" />
<path d="M397.9,348.0 L397.9,351.3 L403.1,351.3 L403.1,348.0" fill="#fdfdfd" stroke="#111" stroke-width="0.9" />
<ellipse cx="400.5" cy="348.0" rx="2.6" ry="1.1" transform="rotate(0 400.5 348.0)" fill="#fdfdfd" stroke="#111" stroke-width="0.9" />
<path d="M397.9,349.40000000000003 L403.1,349.40000000000003" fill="none" stroke="#555" stroke-width="0.6" />
<path d="M395.5,352.0 L397.1,350.6 L403.9,350.6 L405.5,352.0 L405.5,355.1 L403.9,356.5 L397.1,356.5 L395.5,355.1 Z" fill="#fdfdfd" stroke="#111" stroke-width="1.0" />
<path d="M398.5,351.1 L398.5,356.3 M402.5,351.1 L402.5,356.3 M395.5,352.2 L405.5,352.2" fill="none" stroke="#333" stroke-width="0.7" />
<rect x="397.9" y="356.5" width="5.2" height="2.9" fill="#fdfdfd" stroke="#111" stroke-width="0.9"/>
<path d="M398.3,357.6 L402.7,358.2 M398.3,358.7 L402.7,359.2" fill="none" stroke="#222" stroke-width="0.7" />
<path d="M400.8,333 L400.8,310.5 C400.8,305.5 402.5,304.4 405,304.6 C407.5,304.9 409.5,306.5 413,309" fill="none" stroke="#000" stroke-width="4.9" />
<path d="M400.8,333 L400.8,310.5 C400.8,305.5 402.5,304.4 405,304.6 C407.5,304.9 409.5,306.5 413,309" fill="none" stroke="#fdfdfd" stroke-width="2.9" />
<path d="M401.9,311 L401.9,331.5" fill="none" stroke="#aaa" stroke-width="1.7" />
<path d="M403.5,306.2 L410.5,309.8" fill="none" stroke="#666" stroke-width="1.0" />
<path d="M411.3,308.2 L414.5,305.9 L419.5,306.2 L421.7,309.5 L421,314.5 L417,316.9 L412.5,315.2 Z" fill="#fdfdfd" stroke="#111" stroke-width="0.9" />
<path d="M414.5,306 L413.2,311 L415.5,316.5" fill="none" stroke="#333" stroke-width="0.7" />
<ellipse cx="418.2" cy="311.4" rx="3.2" ry="4.3" transform="rotate(20 418.2 311.4)" fill="#fdfdfd" stroke="#000" stroke-width="1.4" />
<ellipse cx="418.3" cy="311.4" rx="1.7" ry="2.5" transform="rotate(20 418.3 311.4)" fill="none" stroke="#333" stroke-width="0.7" />
<path d="M395.8,333 L398,331 L404,331 L406.1,333 L406.1,338.5 L404,340.6 L398,340.6 L395.8,338.5 Z" fill="#fdfdfd" stroke="#111" stroke-width="0.9" />
<path d="M395.8,334.2 L406.1,334.2 M399.3,334.2 L399.3,340.5 M403,334.2 L403,340.5" fill="none" stroke="#333" stroke-width="0.7" />
<path d="M438.5,322 L444,321.8 L452,328.5 L451.5,334 L447,335 L439.5,329.5 Z" fill="#111" stroke="#111" stroke-width="0.8" />
<ellipse cx="443.6" cy="328.2" rx="2.7" ry="4.4" transform="rotate(22 443.6 328.2)" fill="none" stroke="#111" stroke-width="1.2" />
<ellipse cx="443.6" cy="328.2" rx="1.1" ry="3.2" transform="rotate(22 443.6 328.2)" fill="none" stroke="#fdfdfd" stroke-width="1.0" />
<ellipse cx="447.2" cy="330.2" rx="2.7" ry="4.4" transform="rotate(22 447.2 330.2)" fill="none" stroke="#111" stroke-width="1.2" />
<ellipse cx="447.2" cy="330.2" rx="1.1" ry="3.2" transform="rotate(22 447.2 330.2)" fill="none" stroke="#fdfdfd" stroke-width="1.0" />
<ellipse cx="450.2" cy="331.6" rx="2.7" ry="4.4" transform="rotate(22 450.2 331.6)" fill="none" stroke="#111" stroke-width="1.2" />
<ellipse cx="450.2" cy="331.6" rx="1.1" ry="3.2" transform="rotate(22 450.2 331.6)" fill="none" stroke="#fdfdfd" stroke-width="1.0" />
<ellipse cx="440" cy="325.9" rx="2.8" ry="4.3" transform="rotate(22 440 325.9)" fill="#fdfdfd" stroke="#111" stroke-width="1.3" />
<ellipse cx="440" cy="325.9" rx="1.2" ry="3.0" transform="rotate(22 440 325.9)" fill="none" stroke="#bbb" stroke-width="0.8" />
<path d="M364.8,531.5 L364.8,536.5 C364.8,540.5 377,540.5 377,536.5 L377,531.5 Z" fill="#fdfdfd" stroke="#111" stroke-width="1.0" />
<ellipse cx="370.9" cy="536.4" rx="5.4" ry="2.0" transform="rotate(0 370.9 536.4)" fill="none" stroke="#333" stroke-width="0.7" />
<ellipse cx="370.9" cy="531.3" rx="6.1" ry="3.2" transform="rotate(0 370.9 531.3)" fill="#fdfdfd" stroke="#111" stroke-width="1.1" />
<ellipse cx="370.9" cy="532.2" rx="4.0" ry="1.3" transform="rotate(0 370.9 532.2)" fill="#fdfdfd" stroke="#222" stroke-width="0.9" />
<ellipse cx="375.2" cy="524.8" rx="2.0" ry="2.4" transform="rotate(0 375.2 524.8)" fill="#fdfdfd" stroke="#222" stroke-width="0.9" />
<ellipse cx="379.5" cy="529.2" rx="2.6" ry="2.8" transform="rotate(0 379.5 529.2)" fill="#fdfdfd" stroke="#222" stroke-width="0.9" />
<path d="M366,528 C368,526 372,525.5 374.5,527" fill="none" stroke="#222" stroke-width="0.9" />
<path d="M370.1,526.1 L381,532.5" fill="none" stroke="#111" stroke-width="1.1" />
<line x1="837.9" y1="451.5" x2="837.9" y2="489.4" stroke="#999" stroke-width="1.0"/>
<path d="M833,444 L833,448.5 L835.5,451.5 L841,451.5 L843.7,448.5 L843.7,444 Z" fill="#fdfdfd" stroke="#222" stroke-width="0.9" />
<ellipse cx="838.3" cy="443.8" rx="5.4" ry="2.6" transform="rotate(0 838.3 443.8)" fill="#fdfdfd" stroke="#111" stroke-width="1.1" />
<ellipse cx="838.3" cy="443.8" rx="2.8" ry="1.3" transform="rotate(0 838.3 443.8)" fill="none" stroke="#444" stroke-width="0.7" />
<path d="M835.5,446 L835.5,451.5 M841,446 L841,451.5" fill="none" stroke="#444" stroke-width="0.7" />
<rect x="834.7" y="467" width="6.2" height="5.8" rx="2" fill="#111"/>
<path d="M835.6,469.3 L840,469.3" fill="none" stroke="#fdfdfd" stroke-width="0.9" />
<path d="M835.6,471.2 L840,471.2" fill="none" stroke="#888" stroke-width="0.6" />
<path d="M450,390.5 L475,404.7" fill="none" stroke="#222" stroke-width="0.9" />
<g>
<text transform="translate(832.7,199.0) scale(0.8,1)">13</text>
<text transform="translate(756.0,225.5) scale(0.8,1)">17</text>
<text transform="translate(665.6,210.1) scale(0.8,1)">27</text>
<text transform="translate(701.7,208.8) scale(0.8,1)">16</text>
<text transform="translate(713.6,219.1) scale(0.8,1)">30</text>
<text transform="translate(732.7,226.0) scale(0.8,1)">14</text>
<text transform="translate(658.0,265.5) scale(0.8,1)">26</text>
<text transform="translate(650.3,281.0) scale(0.8,1)">19</text>
<text transform="translate(615.5,288.5) scale(0.8,1)">18</text>
<text transform="translate(706.0,304.2) scale(0.8,1)">23</text>
<text transform="translate(799.8,261.8) scale(0.8,1)">15</text>
<text transform="translate(821.0,294.2) scale(0.8,1)">25</text>
<text transform="translate(731.5,315.3) scale(0.8,1)">24</text>
<text transform="translate(460.9,268.5) scale(0.8,1)">12</text>
<text transform="translate(530.6,329.3) scale(0.8,1)">4</text>
<text transform="translate(370.7,302.6) scale(0.8,1)">2</text>
<text transform="translate(440.0,295.5) scale(0.8,1)">3</text>
<text transform="translate(367.0,342.0) scale(0.8,1)">4</text>
<text transform="translate(320.7,377.2) scale(0.8,1)">1</text>
<text transform="translate(552.4,387.6) scale(0.8,1)">9</text>
<text transform="translate(568.7,394.0) scale(0.8,1)">8</text>
<text transform="translate(595.5,384.6) scale(0.8,1)">6</text>
<text transform="translate(619.4,372.1) scale(0.8,1)">11</text>
<text transform="translate(650.5,358.8) scale(0.8,1)">10</text>
<text transform="translate(669.0,454.1) scale(0.8,1)">7</text>
<text transform="translate(520.7,438.9) scale(0.8,1)">22</text>
<text transform="translate(442.7,475.3) scale(0.8,1)">21</text>
<text transform="translate(534.2,483.1) scale(0.8,1)">20</text>
<text transform="translate(416.7,509.6) scale(0.8,1)">5</text>
<text transform="translate(286.9,533.8) scale(0.8,1)">16</text>
<text transform="translate(312.0,546.8) scale(0.8,1)">11</text>
<text transform="translate(334.5,561.9) scale(0.8,1)">32</text>
<text transform="translate(359.1,575.8) scale(0.8,1)">33</text>
<text transform="translate(390.8,593.1) scale(0.8,1)">31</text>
<text transform="translate(866.2,469.6) scale(0.8,1)">28</text>
<text transform="translate(866.2,489.4) scale(0.8,1)">29</text>
</g>
</svg>
</body></html>
